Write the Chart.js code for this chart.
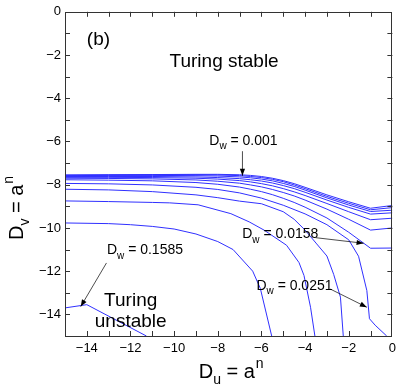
<!DOCTYPE html>
<html><head><meta charset="utf-8">
<script src="https://cdn.jsdelivr.net/npm/chart.js@4.4.0/dist/chart.umd.min.js"></script>
<style>html,body{margin:0;padding:0;background:#fff;}#wrap{width:401px;height:390px;position:relative;}</style>
</head><body><div id="wrap"><canvas id="c" width="401" height="390"></canvas></div>
<script>
// ---- data ----
const X_TICKS = [-14, -12, -10, -8, -6, -4, -2, 0];
const Y_TICKS = [-14, -12, -10, -8, -6, -4, -2, 0];
const DW_VALUES = ['0.001', '0.0016', '0.0025', '0.004', '0.0063', '0.01', '0.0158', '0.0251', '0.0398', '0.0631', '0.1', '0.1585'];

const XC = [-15, -13, -11, -9, -8, -7, -6.5, -6, -5.5, -5, -4.5, -4, -3, -2, -1, 0];
const Y_0001  = [-7.55, -7.54, -7.53, -7.52, -7.52, -7.54, -7.57, -7.62, -7.70, -7.81, -7.95, -8.12, -8.47, -8.79, -9.09, -8.96];
const Y_00016 = [-7.56, -7.55, -7.54, -7.54, -7.55, -7.58, -7.62, -7.67, -7.75, -7.86, -8.01, -8.18, -8.54, -8.86, -9.16, -9.06];
const Y_00025 = [-7.58, -7.57, -7.57, -7.58, -7.60, -7.64, -7.68, -7.74, -7.82, -7.94, -8.08, -8.25, -8.61, -8.94, -9.24, -9.18];
const Y_0004  = [-7.62, -7.62, -7.62, -7.64, -7.67, -7.72, -7.77, -7.83, -7.92, -8.04, -8.18, -8.35, -8.71, -9.05, -9.36, -9.30];
const Y_00063 = [-7.66, -7.66, -7.67, -7.70, -7.74, -7.81, -7.87, -7.95, -8.05, -8.18, -8.33, -8.50, -8.87, -9.25, -9.62, -9.55];
const Y_001   = [-7.70, -7.71, -7.73, -7.78, -7.84, -7.93, -8.01, -8.10, -8.22, -8.36, -8.52, -8.71, -9.13, -9.60, -10.10, -10.00];
const Y_00158 = [-7.77, -7.79, -7.82, -7.90, -7.98, -8.11, -8.21, -8.32, -8.46, -8.63, -8.82, -9.04, -9.54, -10.20, -10.94, -10.93];

const X_00251 = [-15, -13, -11, -9, -8, -7, -6, -5, -4, -3, -2, -1.55, -1.17, -1.05, -0.79, -0.26];
const Y_00251 = [-7.94, -7.96, -8.01, -8.12, -8.22, -8.38, -8.62, -8.95, -9.35, -9.85, -10.55, -11.31, -12.9, -14.2, -14.5, -15];

const X_00398 = [-15, -13, -11, -9, -8, -7, -6, -5, -4.5, -4, -3.5, -3, -2.69, -2.38, -2.25];
const Y_00398 = [-8.21, -8.24, -8.32, -8.47, -8.60, -8.76, -8.88, -9.25, -9.60, -10.1, -10.7, -11.3, -12.15, -13.2, -15];

const X_00631 = [-15, -13, -11, -10.2, -8.9, -7.4, -6.56, -5.88, -4.85, -4.28, -4.05, -3.75, -3.55];
const Y_00631 = [-8.75, -8.78, -8.82, -8.84, -8.93, -9.34, -9.72, -10.1, -10.8, -11.6, -12.2, -13.67, -15];

const X_01 = [-15, -13, -12, -11, -10, -9, -8, -7.3, -6.4, -6.05, -5.53];
const Y_01 = [-9.77, -9.80, -9.85, -9.93, -10.05, -10.28, -10.63, -11.0, -12.0, -12.8, -15];

const X_01585 = [-15, -14, -11.27];
const Y_01585 = [-13.7, -13.55, -15];

// ---- build datasets ----
function pts(xs, ys) { return xs.map((x, i) => ({x: x, y: ys[i]})); }
const SERIES = [
  pts(XC, Y_0001), pts(XC, Y_00016), pts(XC, Y_00025), pts(XC, Y_0004), pts(XC, Y_00063),
  pts(XC, Y_001), pts(XC, Y_00158), pts(X_00251, Y_00251), pts(X_00398, Y_00398),
  pts(X_00631, Y_00631), pts(X_01, Y_01), pts(X_01585, Y_01585)
];
const LINE_COLOR = '#3030ff';
const datasets = SERIES.map((d, i) => ({
  label: 'Dw = ' + DW_VALUES[i], data: d, showLine: true, borderColor: LINE_COLOR,
  borderWidth: 1, pointRadius: 0, tension: 0, fill: false
}));

const FONT = '"Liberation Sans", Arial, Helvetica, sans-serif';
const fmt = v => (v < 0 ? '\u2212' + Math.abs(v) : String(v));

// annotations (data coordinates)
const DW_NOTES = [
  {text: '0.001',  x: -8.39, y: -6.15, from: [-6.87, -6.45], to: [-6.87, -7.59]},
  {text: '0.0158', x: -6.88, y: -10.48, from: [-3.52, -10.45], to: [-1.32, -10.71]},
  {text: '0.0251', x: -6.23, y: -12.87, from: [-2.84, -12.83], to: [-1.17, -13.67]},
  {text: '0.1585', x: -13.08, y: -11.22, from: [-13.1, -11.62], to: [-14.28, -13.64]}
];

function drawDsub(ctx, x, y, sub, rest, size, supText) {
  ctx.font = size + 'px ' + FONT;
  ctx.fillText('D', x, y);
  let w = ctx.measureText('D').width;
  const ss = Math.round(size * 0.72);
  ctx.font = ss + 'px ' + FONT;
  ctx.fillText(sub, x + w, y + size * 0.3);
  w += ctx.measureText(sub).width;
  ctx.font = size + 'px ' + FONT;
  ctx.fillText(rest, x + w, y);
  w += ctx.measureText(rest).width;
  if (supText) {
    ctx.font = ss + 'px ' + FONT;
    ctx.fillText(supText, x + w + 1, y - size * 0.5);
    w += ctx.measureText(supText).width + 1;
  }
  return w;
}

function arrow(ctx, x1, y1, x2, y2) {
  ctx.save();
  ctx.strokeStyle = '#000'; ctx.fillStyle = '#000'; ctx.lineWidth = 0.7;
  ctx.beginPath(); ctx.moveTo(x1, y1); ctx.lineTo(x2, y2); ctx.stroke();
  const a = Math.atan2(y2 - y1, x2 - x1), L = 7, W = 2.6;
  ctx.beginPath();
  ctx.moveTo(x2, y2);
  ctx.lineTo(x2 - L * Math.cos(a) + W * Math.sin(a), y2 - L * Math.sin(a) - W * Math.cos(a));
  ctx.lineTo(x2 - L * Math.cos(a) - W * Math.sin(a), y2 - L * Math.sin(a) + W * Math.cos(a));
  ctx.closePath(); ctx.fill();
  ctx.restore();
}

const framePlugin = {
  id: 'frame',
  afterDraw(chart) {
    const ctx = chart.ctx, a = chart.chartArea, xs = chart.scales.x, ys = chart.scales.y;
    ctx.save();
    // box
    ctx.strokeStyle = '#333'; ctx.lineWidth = 1;
    ctx.strokeRect(Math.round(a.left) + 0.5, Math.round(a.top) + 0.5, Math.round(a.right - a.left) - 1, Math.round(a.bottom - a.top));
    // inward ticks every unit
    const TL = 5;
    ctx.beginPath();
    for (let v = -14; v <= -1; v++) {
      const px = Math.round(xs.getPixelForValue(v)) + 0.5;
      ctx.moveTo(px, a.bottom); ctx.lineTo(px, a.bottom - TL);
      ctx.moveTo(px, a.top); ctx.lineTo(px, a.top + TL);
      const py = Math.round(ys.getPixelForValue(v)) + 0.5;
      ctx.moveTo(a.left, py); ctx.lineTo(a.left + TL, py);
      ctx.moveTo(a.right, py); ctx.lineTo(a.right - TL, py);
    }
    ctx.stroke();

    ctx.fillStyle = '#000';
    ctx.textBaseline = 'alphabetic';
    ctx.textAlign = 'left';
    ctx.font = '19px ' + FONT;
    ctx.fillText('(b)', xs.getPixelForValue(-14.0), ys.getPixelForValue(-1.52));
    ctx.fillText('Turing stable', xs.getPixelForValue(-10.21), ys.getPixelForValue(-2.56));
    ctx.textAlign = 'center';
    ctx.fillText('Turing', xs.getPixelForValue(-11.99), ys.getPixelForValue(-13.59));
    ctx.fillText('unstable', xs.getPixelForValue(-11.99), ys.getPixelForValue(-14.59));
    ctx.textAlign = 'left';

    DW_NOTES.forEach(n => {
      drawDsub(ctx, xs.getPixelForValue(n.x), ys.getPixelForValue(n.y), 'w', ' = ' + n.text, 14);
      arrow(ctx, xs.getPixelForValue(n.from[0]), ys.getPixelForValue(n.from[1]),
                 xs.getPixelForValue(n.to[0]), ys.getPixelForValue(n.to[1]));
    });

    // axis titles
    const cx = (a.left + a.right) / 2;
    drawDsub(ctx, cx - 30, 378, 'u', ' = a', 20, 'n');
    ctx.save();
    ctx.translate(23, 240);
    ctx.rotate(-Math.PI / 2);
    drawDsub(ctx, 0, 0, 'v', ' = a', 20, 'n');
    ctx.restore();
    ctx.restore();
  }
};

new Chart(document.getElementById('c'), {
  type: 'scatter',
  data: {datasets: datasets},
  options: {
    responsive: false, animation: false, devicePixelRatio: 1,
    layout: {padding: {left: 0, right: 7, top: 7, bottom: 0}},
    plugins: {legend: {display: false}, tooltip: {enabled: false}},
    scales: {
      x: {
        type: 'linear', min: -15, max: 0, position: 'bottom',
        grid: {display: false, drawTicks: false}, border: {display: false},
        ticks: {font: {family: FONT, size: 13}, color: '#000', padding: 5, callback: v => fmt(v), maxRotation: 0},
        afterBuildTicks: s => { s.ticks = X_TICKS.map(v => ({value: v})); },
        afterFit: s => { s.height = 54; }
      },
      y: {
        type: 'linear', min: -15, max: 0,
        grid: {display: false, drawTicks: false}, border: {display: false},
        ticks: {font: {family: FONT, size: 13}, color: '#000', padding: 4, callback: v => fmt(v)},
        afterBuildTicks: s => { s.ticks = Y_TICKS.map(v => ({value: v})); },
        afterFit: s => { s.width = 65; }
      }
    }
  },
  plugins: [framePlugin]
});
</script></body></html>
